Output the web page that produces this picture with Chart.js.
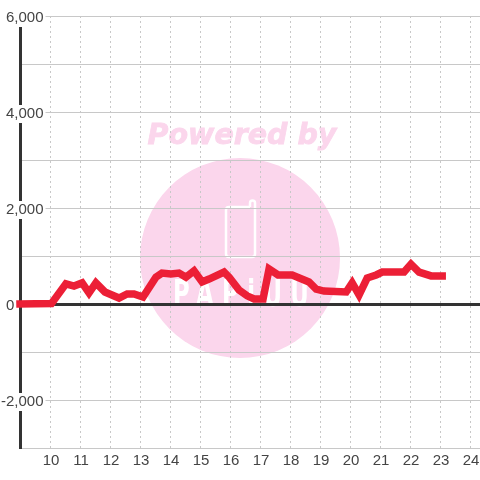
<!DOCTYPE html>
<html>
<head>
<meta charset="utf-8">
<style>
  html, body { margin: 0; padding: 0; background: #fff; }
  #wrap { width: 480px; height: 480px; }
</style>
<script src="https://cdn.jsdelivr.net/npm/chart.js@4"></script>
</head>
<body>
<div id="wrap"><canvas id="chart" width="480" height="480"></canvas></div>
<script>
const hours = [9, 10.05, 10.53, 10.8, 11.07, 11.3, 11.53, 11.83, 12.3, 12.57, 12.8, 13.1, 13.53, 13.73, 14.03, 14.3, 14.53, 14.8, 15.07, 15.3, 15.8, 15.97, 16.3, 16.57, 16.8, 17.1, 17.3, 17.6, 18.07, 18.63, 18.87, 19.13, 19.87, 20.07, 20.3, 20.57, 20.87, 21.07, 21.8, 22.03, 22.3, 22.7, 23.07];
const values = [0, 10, 420, 375, 440, 230, 440, 250, 125, 210, 210, 145, 560, 645, 625, 645, 560, 690, 460, 520, 665, 560, 290, 170, 105, 105, 730, 605, 605, 460, 310, 270, 250, 440, 190, 540, 605, 665, 665, 830, 665, 585, 585];

const xTicks = [10, 11, 12, 13, 14, 15, 16, 17, 18, 19, 20, 21, 22, 23, 24];
const yTicks = [-3000, -2000, -1000, 0, 1000, 2000, 3000, 4000, 5000, 6000];

const watermark = {
  id: 'watermark',
  beforeDraw(chart) {
    const c = chart.ctx;
    c.save();
    c.fillStyle = '#fbd6ec';
    c.beginPath();
    c.arc(240, 258, 100, 0, Math.PI * 2);
    c.fill();
    c.font = 'italic bold 28.5px "DejaVu Sans"';
    c.textAlign = 'center';
    c.fillText('Powered by', 242, 144);
    c.strokeStyle = '#fbd6ec';
    c.lineWidth = 0.8;
    c.strokeText('Powered by', 242, 144);
    // phone icon
    c.strokeStyle = '#fff';
    c.lineWidth = 2.5;
    c.lineJoin = 'round';
    c.beginPath();
    c.moveTo(250, 207);
    c.lineTo(229, 207);
    c.quadraticCurveTo(226, 207, 226, 210);
    c.lineTo(226, 254);
    c.quadraticCurveTo(226, 257, 229, 257);
    c.lineTo(252, 257);
    c.quadraticCurveTo(255, 257, 255, 254);
    c.lineTo(255, 203);
    c.arc(252.5, 203, 2.5, 0, Math.PI, true);
    c.lineTo(250, 207);
    c.stroke();
    // word under the icon, hard to read in the picture
    c.fillStyle = '#fff';
    c.translate(173, 306);
    c.scale(0.6, 1);
    c.font = 'bold 38px "DejaVu Sans"';
    c.textAlign = 'left';
    c.letterSpacing = '14px';
    c.fillText('PAPiUU', 0, 0);
    c.restore();
  }
};

new Chart(document.getElementById('chart'), {
  type: 'scatter',
  data: {
    datasets: [{
      data: hours.map((h, i) => ({ x: h, y: values[i] })),
      showLine: true,
      borderColor: '#ec1f36',
      borderWidth: 7.5,
      borderCapStyle: 'square',
      borderJoinStyle: 'miter',
      pointRadius: 0,
      tension: 0,
      clip: false
    }]
  },
  plugins: [watermark],
  options: {
    responsive: false,
    animation: false,
    layout: { padding: { left: 20, top: 16, right: 0, bottom: 0 } },
    plugins: { legend: { display: false }, tooltip: { enabled: false } },
    scales: {
      x: {
        type: 'linear',
        min: 9,
        max: 24.33,
        afterBuildTicks: s => { s.ticks = xTicks.map(v => ({ value: v })); },
        afterFit: s => { s.height = 32; s.paddingLeft = 0; s.paddingRight = 0; },
        grid: { color: '#c8c8c8', lineWidth: 1, drawTicks: false },
        border: { display: false, dash: [2, 3] },
        ticks: { color: '#444', font: { family: '"Liberation Sans"', size: 15 }, padding: 4, labelOffset: 1, maxRotation: 0, autoSkip: false }
      },
      y: {
        min: -3000,
        max: 6000,
        afterBuildTicks: s => { s.ticks = yTicks.map(v => ({ value: v })); },
        afterFit: s => { s.width = 0; s.paddingTop = 0; s.paddingBottom = 0; },
        grid: {
          color: c => (c.tick.value === 0 ? '#333' : '#c8c8c8'),
          lineWidth: c => (c.tick.value === 0 ? 3 : 1),
          drawTicks: false
        },
        border: { display: true, color: '#333', width: 3 },
        ticks: {
          z: 1,
          mirror: true,
          crossAlign: 'far',
          padding: -19,
          labelOffset: 2,
          color: '#444',
          font: { family: '"Liberation Sans"', size: 15 },
          autoSkip: false,
          showLabelBackdrop: true,
          backdropPadding: { left: 2, right: 2, top: 0, bottom: 0 },
          backdropColor: c => (c.tick.value !== 0 && c.tick.value % 2000 === 0 ? '#fff' : 'rgba(0,0,0,0)'),
          callback: v => {
            if (v === 0) return '0\u00a0\u00a0\u00a0\u00a0\u00a0\u00a0\u00a0';
            return v % 2000 === 0 ? v.toLocaleString('en-US') : '';
          }
        }
      }
    }
  }
});
</script>
</body>
</html>
